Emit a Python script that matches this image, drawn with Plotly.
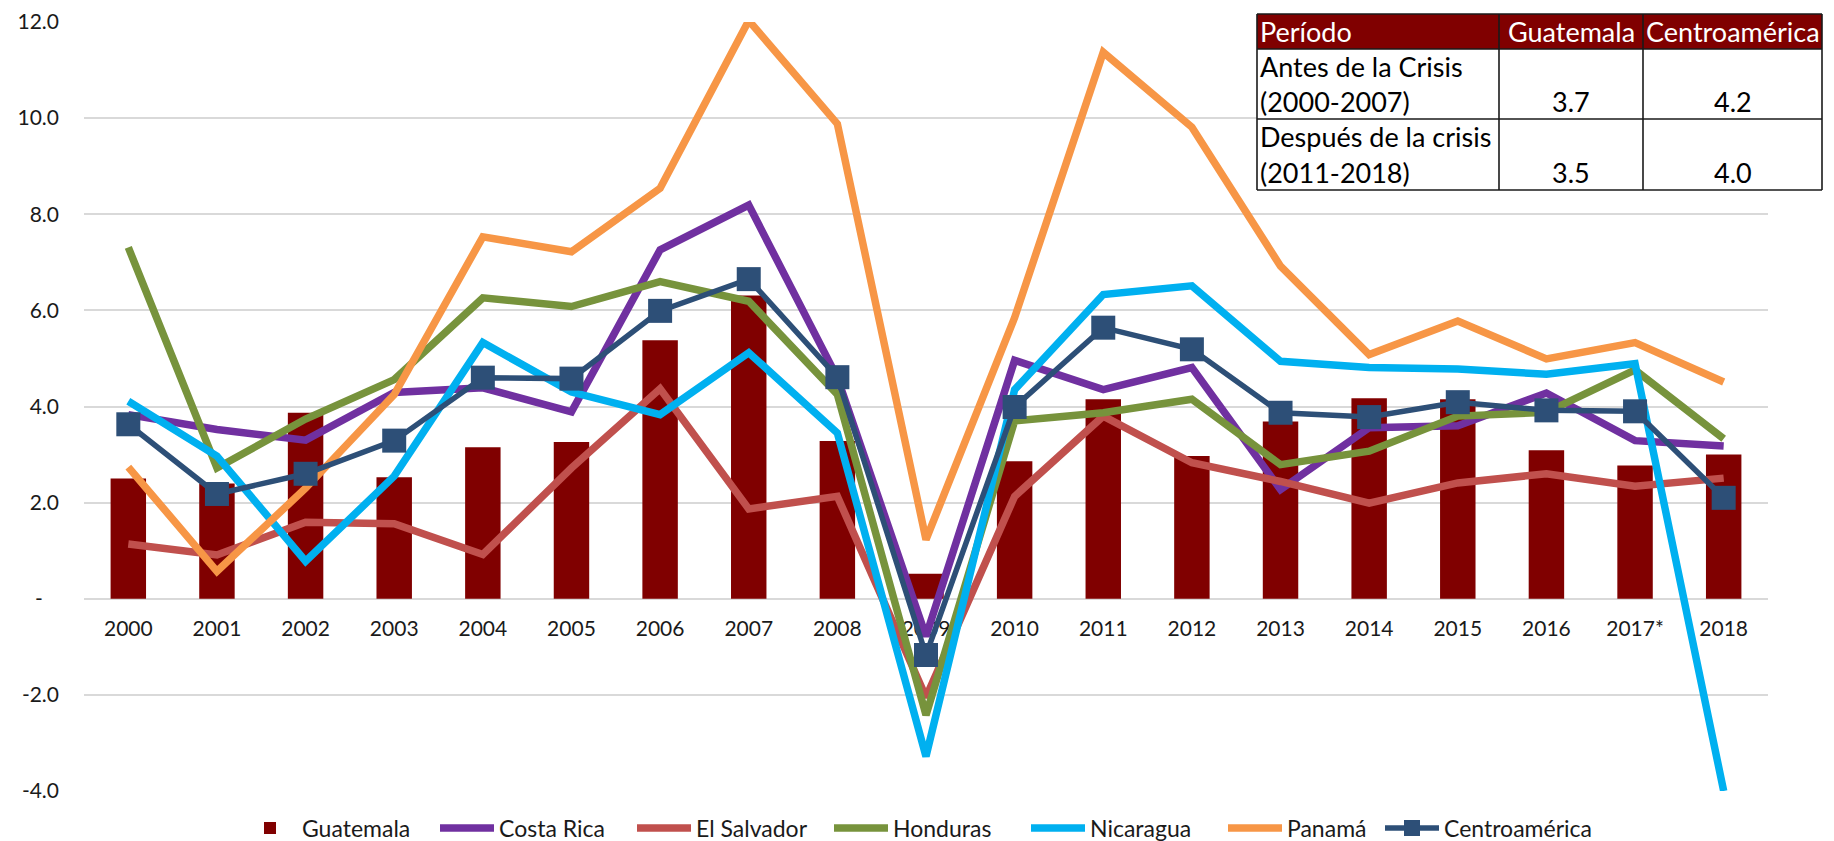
import plotly.graph_objects as go

# ---------------- data ----------------
years = ["2000", "2001", "2002", "2003", "2004", "2005", "2006", "2007", "2008", "2009",
         "2010", "2011", "2012", "2013", "2014", "2015", "2016", "2017*", "2018"]

guatemala = [2.5, 2.4, 3.87, 2.53, 3.15, 3.26, 5.38, 6.31, 3.28, 0.52,
             2.86, 4.15, 2.97, 3.69, 4.17, 4.15, 3.09, 2.77, 3.0]
costa_rica = [3.83, 3.52, 3.3, 4.29, 4.39, 3.89, 7.26, 8.19, 4.6, -0.78,
              4.96, 4.35, 4.81, 2.27, 3.56, 3.6, 4.28, 3.29, 3.18]
el_salvador = [1.14, 0.91, 1.59, 1.56, 0.92, 2.72, 4.37, 1.87, 2.13, -2.05,
               2.13, 3.8, 2.83, 2.44, 1.99, 2.41, 2.6, 2.34, 2.51]
honduras = [7.31, 2.72, 3.74, 4.56, 6.26, 6.08, 6.6, 6.19, 4.25, -2.42,
            3.7, 3.87, 4.15, 2.79, 3.07, 3.8, 3.88, 4.76, 3.33]
nicaragua = [4.11, 2.97, 0.78, 2.55, 5.33, 4.3, 3.83, 5.12, 3.45, -3.28,
             4.35, 6.33, 6.51, 4.94, 4.81, 4.78, 4.67, 4.89, -4.0]
panama = [2.74, 0.57, 2.3, 4.25, 7.53, 7.22, 8.54, 12.03, 9.88, 1.23,
          5.85, 11.37, 9.81, 6.92, 5.08, 5.78, 4.99, 5.33, 4.51]
centroamerica = [3.63, 2.18, 2.6, 3.29, 4.6, 4.58, 5.99, 6.65, 4.61, -1.17,
                 3.99, 5.64, 5.19, 3.87, 3.78, 4.09, 3.92, 3.9, 2.1]

y_tickvals = [-4, -2, 0, 2, 4, 6, 8, 10, 12]
y_ticktext = ["-4.0", "-2.0", "-\u00a0\u00a0\u00a0", "2.0", "4.0", "6.0", "8.0", "10.0", "12.0"]

table_header = ["Período", "Guatemala", "Centroamérica"]
table_period_lines = [["Antes de la Crisis", "(2000-2007)"],
                      ["Después de la crisis", "(2011-2018)"]]
table_guatemala = ["3.7", "3.5"]
table_centro = ["4.2", "4.0"]

# ---------------- geometry ----------------
W, H = 1834, 841
ML, MR, MT, MB = 84, 66, 22, 50
PW = W - ML - MR
PH = H - MT - MB


def px(x):
    return (x - ML) / PW


def py(y):
    return (H - MB - y) / PH


FONT = "Lato, Carlito, Calibri, sans-serif"

fig = go.Figure()

fig.add_bar(x=years, y=guatemala, name="Guatemala",
            marker=dict(color="#800000", line=dict(width=0)))

series = [
    ("Costa Rica", costa_rica, "#7030A0"),
    ("El Salvador", el_salvador, "#C0504D"),
    ("Honduras", honduras, "#77933C"),
    ("Nicaragua", nicaragua, "#00B0F0"),
    ("Panamá", panama, "#F79646"),
]
for name, vals, color in series:
    fig.add_scatter(x=years, y=vals, mode="lines", name=name,
                    line=dict(color=color, width=7.5))

fig.add_scatter(x=years, y=centroamerica, mode="lines+markers", name="Centroamérica",
                line=dict(color="#2D4F77", width=5.5),
                marker=dict(symbol="square", size=24, color="#2D4F77"),
                legend="legend2")

# ---------------- table (shapes + text) ----------------
cols = [1257, 1499, 1643, 1822]
rows = [14, 49, 119, 190]
shapes = []
shapes.append(dict(type="rect", xref="paper", yref="paper", layer="above",
                   x0=px(cols[0]), x1=px(cols[3]), y0=py(rows[1]), y1=py(rows[3]),
                   fillcolor="white", line=dict(width=0)))
shapes.append(dict(type="rect", xref="paper", yref="paper", layer="above",
                   x0=px(cols[0]), x1=px(cols[3]), y0=py(rows[0]), y1=py(rows[1]),
                   fillcolor="#800000", line=dict(width=0)))
for r in rows:
    shapes.append(dict(type="line", xref="paper", yref="paper", layer="above",
                       x0=px(cols[0]), x1=px(cols[3]), y0=py(r), y1=py(r),
                       line=dict(color="#1a1a1a", width=1.6)))
for c in cols:
    shapes.append(dict(type="line", xref="paper", yref="paper", layer="above",
                       x0=px(c), x1=px(c), y0=py(rows[0]), y1=py(rows[3]),
                       line=dict(color="#1a1a1a", width=1.6)))

annotations = []
TFS = 27
annotations.append(dict(xref="paper", yref="paper", x=px(cols[0] + 1), y=py((rows[0] + rows[1]) / 2),
                        xanchor="left", yanchor="middle", text=table_header[0], showarrow=False,
                        font=dict(family=FONT, size=TFS, color="white")))
for i in (1, 2):
    annotations.append(dict(xref="paper", yref="paper", x=px((cols[i] + cols[i + 1]) / 2),
                            y=py((rows[0] + rows[1]) / 2), xanchor="center", yanchor="middle",
                            text=table_header[i], showarrow=False,
                            font=dict(family=FONT, size=TFS, color="white")))
for k in range(2):
    top, bot = rows[k + 1], rows[k + 2]
    mid = (top + bot) / 2
    y1 = (top + mid) / 2
    y2 = (mid + bot) / 2
    for yy, txt in zip((y1, y2), table_period_lines[k]):
        annotations.append(dict(xref="paper", yref="paper", x=px(cols[0] + 1), y=py(yy),
                                xanchor="left", yanchor="middle", text=txt, showarrow=False,
                                font=dict(family=FONT, size=TFS, color="black")))
    annotations.append(dict(xref="paper", yref="paper", x=px((cols[1] + cols[2]) / 2), y=py(y2),
                            xanchor="center", yanchor="middle", text=table_guatemala[k],
                            showarrow=False, font=dict(family=FONT, size=TFS, color="black")))
    annotations.append(dict(xref="paper", yref="paper", x=px((cols[2] + cols[3]) / 2), y=py(y2),
                            xanchor="center", yanchor="middle", text=table_centro[k],
                            showarrow=False, font=dict(family=FONT, size=TFS, color="black")))

LEG_Y = py(828)
fig.update_layout(
    width=W, height=H,
    margin=dict(l=ML, r=MR, t=MT, b=MB, autoexpand=False),
    paper_bgcolor="white", plot_bgcolor="white",
    font=dict(family=FONT, color="#1a1a1a"),
    bargap=0.6,
    showlegend=True,
    legend=dict(orientation="h", x=px(238), xanchor="left", y=LEG_Y, yanchor="middle",
                font=dict(family=FONT, size=23, color="#1a1a1a"),
                itemwidth=54, entrywidth=128, traceorder="normal",
                bgcolor="rgba(0,0,0,0)"),
    legend2=dict(orientation="h", x=px(1380), xanchor="left", y=LEG_Y, yanchor="middle",
                 font=dict(family=FONT, size=23, color="#1a1a1a"),
                 itemwidth=54, bgcolor="rgba(0,0,0,0)"),
    shapes=shapes,
    annotations=annotations,
    xaxis=dict(type="category", range=[-0.5, 18.5], anchor="free", position=0.25,
               showgrid=False, showline=False, zeroline=False, ticks="",
               tickfont=dict(family=FONT, size=21, color="#1a1a1a"),
               ticklabelstandoff=15, layer="below traces"),
    yaxis=dict(range=[-4, 12], tickvals=y_tickvals, ticktext=y_ticktext,
               showgrid=True, gridcolor="#D9D9D9", gridwidth=1.5,
               zeroline=True, zerolinecolor="#D9D9D9", zerolinewidth=1.5,
               showline=False, ticks="",
               tickfont=dict(family=FONT, size=21, color="#1a1a1a"),
               ticklabelstandoff=24),
)

fig.write_html("out.html",
               config={"displayModeBar": False},
               post_script="document.body.style.margin='0';document.body.style.overflow='hidden';")
